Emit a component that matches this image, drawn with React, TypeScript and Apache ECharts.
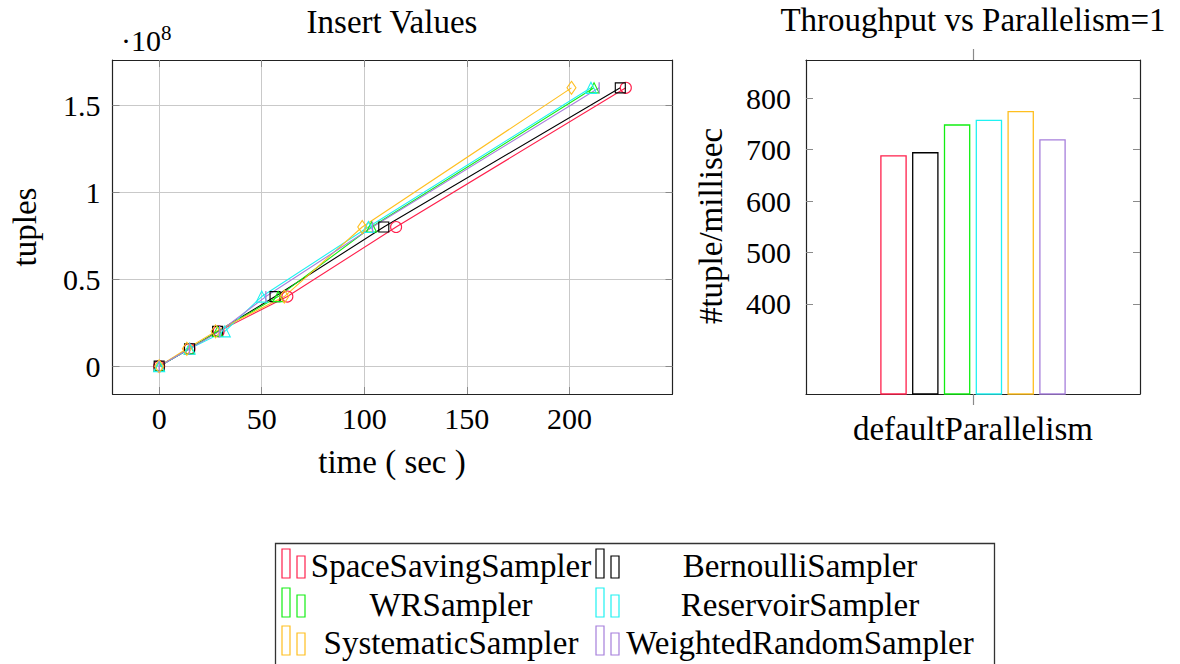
import React, { useEffect, useRef } from "react";
import * as echarts from "echarts";

// Insert benchmark: elapsed time (sec) at each tuple count, per sampler
const tupleCounts = [0, 1e7, 2e7, 4e7, 8e7, 1.6e8];
const spaceSavingTimes = [0, 14.8, 29, 62.5, 115.5, 227.5];
const bernoulliTimes = [0, 14.8, 28.5, 56.5, 109.5, 224.8];
const wrTimes = [0, 14.8, 28.5, 58, 103.5, 212];
const reservoirTimes = [0, 14.8, 32, 50, 102, 210.5];
const systematicTimes = [0, 13.5, 27.5, 61, 99, 201];
const weightedRandomTimes = [0, 14.8, 29.5, 52, 104, 214.5];

// Throughput (tuples per millisecond) at parallelism 1
const parallelismCategories = ["defaultParallelism"];
const throughputValues = [689, 695, 749, 758, 775, 720];

const samplerNames = [
  "SpaceSavingSampler",
  "BernoulliSampler",
  "WRSampler",
  "ReservoirSampler",
  "SystematicSampler",
  "WeightedRandomSampler",
];
const samplerColors = ["#FF1F4B", "#000000", "#12EE12", "#1FF2F2", "#FFBF1F", "#A67FDB"];

const timeTicks = [0, 50, 100, 150, 200];
const tupleTicks = [0, 0.5e8, 1e8, 1.5e8];
const throughputTicks = [400, 500, 600, 700, 800];

const FONT = "'Liberation Serif', 'Times New Roman', serif";
const TICK_GRAY = "#8a8a8a";
const GRID_GRAY = "#c9c9c9";
const BOX = "#222";
const TEXT_PX = 33;

const markerStyles = [
  { symbol: "circle", symbolSize: 11 },
  { symbol: "rect", symbolSize: 10 },
  { symbol: "triangle", symbolSize: 10 },
  { symbol: "triangle", symbolSize: 11 },
  { symbol: "diamond", symbolSize: [9, 13] },
  { symbol: "rect", symbolSize: [1.3, 11] },
];

export default function App() {
  const ref = useRef<HTMLDivElement>(null);

  useEffect(() => {
    if (!ref.current) return;
    const chart = echarts.init(ref.current, null, { renderer: "svg" });

    const timeSeries = [
      spaceSavingTimes,
      bernoulliTimes,
      wrTimes,
      reservoirTimes,
      systematicTimes,
      weightedRandomTimes,
    ];

    const lineSeries = timeSeries.map((times, i) => ({
      type: "line",
      name: samplerNames[i],
      xAxisIndex: 0,
      yAxisIndex: 0,
      data: times.map((t, j) => [t, tupleCounts[j]]),
      symbol: markerStyles[i].symbol,
      symbolSize: markerStyles[i].symbolSize,
      showAllSymbol: true,
      clip: false,
      lineStyle: { color: samplerColors[i], width: 1.1 },
      itemStyle:
        i === 5
          ? { color: samplerColors[i], borderWidth: 0 }
          : { color: "rgba(255,255,255,0)", borderColor: samplerColors[i], borderWidth: 1.1 },
      emphasis: { disabled: true },
    }));

    const barSeries = throughputValues.map((v, i) => ({
      type: "bar",
      name: samplerNames[i],
      xAxisIndex: 2,
      yAxisIndex: 2,
      data: [v],
      barWidth: 26.5,
      barGap: "20%",
      itemStyle: {
        color: "rgba(255,255,255,0)",
        borderColor: samplerColors[i],
        borderWidth: 1.3,
      },
      emphasis: { disabled: true },
    }));

    const labelFont = { fontFamily: FONT, fontSize: 30, color: "#000" };
    const boxLine = { show: true, onZero: false, lineStyle: { color: BOX, width: 1.2 } };

    const timeAxisBase = {
      type: "value",
      gridIndex: 0,
      min: -22.75,
      max: 250.25,
      minInterval: 50,
      maxInterval: 50,
      axisLine: boxLine,
      axisTick: { show: true, inside: true, length: 7, customValues: timeTicks, lineStyle: { color: TICK_GRAY } },
    };
    const tupleAxisBase = {
      type: "value",
      gridIndex: 0,
      min: -0.16e8,
      max: 1.76e8,
      minInterval: 0.5e8,
      maxInterval: 0.5e8,
      axisLine: boxLine,
      axisTick: { show: true, inside: true, length: 7, customValues: tupleTicks, lineStyle: { color: TICK_GRAY } },
    };
    const throughputAxisBase = {
      type: "value",
      gridIndex: 1,
      min: 225,
      max: 874,
      minInterval: 100,
      maxInterval: 100,
      axisLine: boxLine,
      axisTick: { show: true, inside: true, length: 7, customValues: throughputTicks, lineStyle: { color: TICK_GRAY } },
      splitLine: { show: false },
    };
    const categoryAxisBase = {
      type: "category",
      gridIndex: 1,
      data: parallelismCategories,
      axisLine: boxLine,
      axisTick: { show: true, inside: false, alignWithLabel: true, length: 11, lineStyle: { color: TICK_GRAY, width: 1.2 } },
    };

    const textStyle = (text: string) => ({
      text,
      font: `${TEXT_PX}px ${FONT}`,
      fill: "#000",
      align: "center",
      verticalAlign: "middle",
    });

    // Legend: two bar glyphs per entry, names centred in two columns
    const legendCols = [{ iconX: 282, textX: 451 }, { iconX: 596, textX: 800 }];
    const legendRows = [566, 605, 643];
    const legendGraphics: any[] = [
      {
        type: "rect",
        shape: { x: 275.5, y: 543.5, width: 719, height: 140 },
        style: { fill: "none", stroke: "#333", lineWidth: 1.3 },
        silent: true,
      },
    ];
    samplerNames.forEach((name, i) => {
      const col = legendCols[i % 2];
      const cy = legendRows[Math.floor(i / 2)];
      legendGraphics.push(
        {
          type: "rect",
          shape: { x: col.iconX, y: cy - 17, width: 8, height: 29 },
          style: { fill: "none", stroke: samplerColors[i], lineWidth: 1.2 },
          silent: true,
        },
        {
          type: "rect",
          shape: { x: col.iconX + 15, y: cy - 10, width: 8, height: 22 },
          style: { fill: "none", stroke: samplerColors[i], lineWidth: 1.2 },
          silent: true,
        },
        { type: "text", x: col.textX, y: cy, style: textStyle(name), silent: true }
      );
    });

    chart.setOption({
      animation: false,
      grid: [
        { left: 112.5, top: 60, width: 560, height: 334, show: false },
        { left: 806, top: 60, width: 334, height: 334, show: false },
      ],
      xAxis: [
        {
          ...timeAxisBase,
          position: "bottom",
          axisLabel: { ...labelFont, margin: 9, customValues: timeTicks },
          splitLine: { show: true, lineStyle: { color: GRID_GRAY, width: 1 } },
        },
        {
          ...timeAxisBase,
          position: "top",
          axisLabel: { show: false },
          splitLine: { show: false },
        },
        {
          ...categoryAxisBase,
          position: "bottom",
          axisLabel: { ...labelFont, fontSize: TEXT_PX, margin: 18 },
        },
        {
          ...categoryAxisBase,
          position: "top",
          axisLabel: { show: false },
        },
      ],
      yAxis: [
        {
          ...tupleAxisBase,
          position: "left",
          axisLabel: {
            ...labelFont,
            margin: 12,
            customValues: tupleTicks,
            formatter: (v: number) => String(Math.round((v / 1e8) * 10) / 10),
          },
          splitLine: { show: true, lineStyle: { color: GRID_GRAY, width: 1 } },
        },
        {
          ...tupleAxisBase,
          position: "right",
          axisLabel: { show: false },
          splitLine: { show: false },
        },
        {
          ...throughputAxisBase,
          position: "left",
          axisLabel: { ...labelFont, margin: 15, customValues: throughputTicks },
        },
        {
          ...throughputAxisBase,
          position: "right",
          axisLabel: { show: false },
        },
      ],
      series: [...lineSeries, ...barSeries],
      graphic: [
        { type: "text", x: 392, y: 22, style: textStyle("Insert Values"), silent: true },
        { type: "text", x: 973, y: 20, style: textStyle("Throughput vs Parallelism=1"), silent: true },
        {
          type: "text",
          x: 121,
          y: 40,
          style: {
            text: "{b|·10}{s|8}",
            fill: "#000",
            align: "left",
            verticalAlign: "middle",
            rich: {
              b: { font: `30px ${FONT}`, fill: "#000" },
              s: { font: `21px ${FONT}`, fill: "#000", verticalAlign: "top", padding: [0, 0, 14, 0] },
            },
          },
          silent: true,
        },
        { type: "text", x: 25, y: 227, rotation: Math.PI / 2, style: textStyle("tuples"), silent: true },
        { type: "text", x: 392, y: 462, style: textStyle("time ( sec )"), silent: true },
        { type: "text", x: 711, y: 226, rotation: Math.PI / 2, style: textStyle("#tuple/millisec"), silent: true },
        ...legendGraphics,
      ],
    });

    return () => chart.dispose();
  }, []);

  return (
    <div
      ref={ref}
      style={{ position: "fixed", left: 0, top: 0, width: 1180, height: 664, background: "#fff" }}
    />
  );
}
